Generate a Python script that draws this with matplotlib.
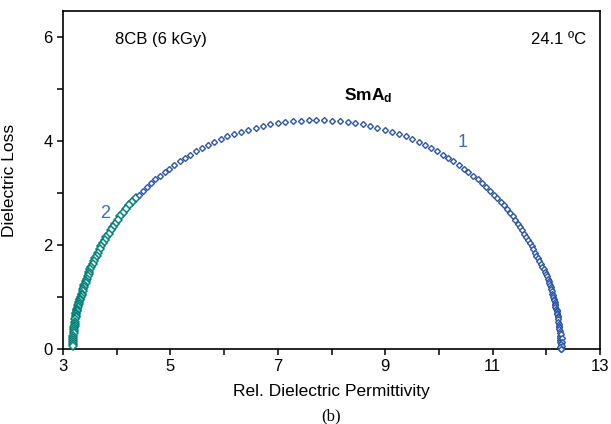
import numpy as np
import matplotlib
matplotlib.use("Agg")
import matplotlib.pyplot as plt
from matplotlib.ticker import FixedLocator, MultipleLocator

plt.rcParams["font.family"] = ["Liberation Sans", "DejaVu Sans"]
plt.rcParams["mathtext.fontset"] = "custom"
plt.rcParams["mathtext.rm"] = "Liberation Sans"
plt.rcParams["mathtext.bf"] = "Liberation Sans:bold"

# ---- Region 1 (blue): from the knee on the left, over the top, down to the right end
perm_1 = [
    4.42, 4.49, 4.56, 4.64, 4.72, 4.80, 4.89, 4.98, 5.07, 5.17,
    5.27, 5.37, 5.48, 5.59, 5.70, 5.82, 5.94, 6.06, 6.19, 6.32,
    6.45, 6.59, 6.72, 6.86, 7.00, 7.14, 7.29, 7.43, 7.58, 7.72,
    7.86, 8.01, 8.15, 8.30, 8.44, 8.58, 8.72, 8.85, 8.99, 9.12,
    9.25, 9.38, 9.50, 9.62, 9.74, 9.85, 9.96, 10.07, 10.17, 10.27,
    10.37, 10.46, 10.55, 10.64, 10.72, 10.80, 10.88, 10.95, 11.02, 11.08,
    11.15, 11.21, 11.26, 11.32, 11.37, 11.42, 11.47, 11.51, 11.55, 11.59,
    11.63, 11.66, 11.70, 11.73, 11.76, 11.79, 11.81, 11.84, 11.87, 11.90,
    11.92, 11.95, 11.97, 11.99, 12.01, 12.03, 12.04, 12.05, 12.07, 12.08,
    12.09, 12.10, 12.11, 12.12, 12.13, 12.14, 12.15, 12.16, 12.16, 12.17,
    12.17, 12.18, 12.19, 12.19, 12.20, 12.20,
    12.21, 12.21, 12.22, 12.22, 12.23, 12.23, 12.24, 12.24, 12.25, 12.25,
    12.26, 12.26, 12.26, 12.26, 12.27, 12.27, 12.27,
    12.28, 12.30, 12.29, 12.27, 12.30, 12.26, 12.28,
]
loss_1 = [
    2.97, 3.04, 3.12, 3.19, 3.26, 3.33, 3.40, 3.47, 3.54, 3.61,
    3.68, 3.74, 3.80, 3.87, 3.92, 3.98, 4.04, 4.09, 4.13, 4.18,
    4.22, 4.26, 4.29, 4.32, 4.34, 4.36, 4.38, 4.39, 4.40, 4.40,
    4.40, 4.39, 4.38, 4.36, 4.34, 4.32, 4.29, 4.26, 4.22, 4.18,
    4.13, 4.09, 4.04, 3.98, 3.92, 3.87, 3.80, 3.74, 3.68, 3.61,
    3.54, 3.47, 3.40, 3.33, 3.26, 3.19, 3.12, 3.04, 2.97, 2.90,
    2.83, 2.76, 2.69, 2.62, 2.55, 2.48, 2.41, 2.34, 2.28, 2.21,
    2.15, 2.09, 2.03, 1.97, 1.91, 1.85, 1.79, 1.74, 1.69, 1.63,
    1.58, 1.53, 1.48, 1.44, 1.39, 1.35, 1.30, 1.26, 1.22, 1.18,
    1.14, 1.10, 1.06, 1.03, 0.99, 0.96, 0.93, 0.89, 0.86, 0.83,
    0.80, 0.77, 0.75, 0.72, 0.69, 0.67,
    0.63, 0.60, 0.56, 0.52, 0.48, 0.44, 0.41, 0.37, 0.33, 0.29,
    0.25, 0.21, 0.17, 0.13, 0.09, 0.05, 0.00,
    0.28, 0.20, 0.12, 0.08, 0.04, 0.02, 0.00,
]

# ---- Region 2 (teal): low-permittivity tail
perm_2 = [
    4.36, 4.29, 4.23, 4.18, 4.12, 4.07, 4.02, 3.97, 3.93, 3.89,
    3.85, 3.81, 3.78, 3.74, 3.71, 3.68, 3.65, 3.63, 3.60, 3.58,
    3.55, 3.53, 3.51, 3.49, 3.48, 3.46, 3.44, 3.43, 3.42, 3.40,
    3.39, 3.38, 3.37, 3.36, 3.35, 3.33, 3.32, 3.31, 3.30, 3.29,
    3.28, 3.28, 3.27, 3.26, 3.26, 3.25, 3.25,
    3.24, 3.24, 3.23, 3.23, 3.22, 3.22, 3.21, 3.21, 3.20, 3.20,
    3.19, 3.19, 3.19, 3.19, 3.19, 3.19,
]
loss_2 = [
    2.90, 2.83, 2.76, 2.69, 2.62, 2.55, 2.48, 2.41, 2.34, 2.28,
    2.21, 2.15, 2.09, 2.03, 1.97, 1.91, 1.85, 1.79, 1.74, 1.69,
    1.63, 1.58, 1.53, 1.48, 1.44, 1.39, 1.35, 1.30, 1.26, 1.22,
    1.18, 1.14, 1.10, 1.06, 1.03, 0.99, 0.96, 0.93, 0.89, 0.86,
    0.83, 0.80, 0.77, 0.75, 0.72, 0.69, 0.67,
    0.63, 0.60, 0.56, 0.52, 0.48, 0.44, 0.41, 0.37, 0.33, 0.29,
    0.25, 0.21, 0.17, 0.13, 0.09, 0.05,
]

x_ticks = [3, 5, 7, 9, 11, 13]
x_minor = [4, 6, 8, 10, 12]
y_ticks = [0, 2, 4, 6]

blue = "#2a55a8"
teal = "#00827a"
label_blue = "#3a6fb8"

fig = plt.figure(figsize=(6.11, 4.24), dpi=100)
ax = fig.add_axes([0.1031, 0.178, 0.879, 0.795])

# ---- Data
ax.plot(perm_2, loss_2, linestyle="none", marker="D", markersize=3.6,
        markerfacecolor="white", markeredgecolor=teal, markeredgewidth=1.1,
        clip_on=False, zorder=3)
ax.plot(perm_1, loss_1, linestyle="none", marker="D", markersize=3.0,
        markerfacecolor="white", markeredgecolor=blue, markeredgewidth=1.0,
        clip_on=False, zorder=4)

# ---- Annotations
ax.text(0.097, 0.918, "8CB (6 kGy)", transform=ax.transAxes,
        fontsize=12, ha="left", va="center")
ax.text(0.974, 0.918, "24.1 ºC", transform=ax.transAxes,
        fontsize=12, ha="right", va="center")
ax.text(8.68, 4.88, r"$\mathbf{SmA_d}$", fontsize=12.5, ha="center", va="center")
ax.text(10.45, 3.98, "1", color=label_blue, fontsize=13, ha="center", va="center")
ax.text(3.78, 2.61, "2", color=label_blue, fontsize=13, ha="center", va="center")

# ---- Axes
ax.set_xlim(3, 13)
ax.set_ylim(0, 6.5)
ax.xaxis.set_major_locator(FixedLocator(x_ticks))
ax.xaxis.set_minor_locator(FixedLocator(x_minor))
ax.yaxis.set_major_locator(FixedLocator(y_ticks))
ax.yaxis.set_minor_locator(MultipleLocator(1))
ax.tick_params(which="both", direction="out", length=4, width=1.1,
               labelsize=12, top=False, right=False)
for spine in ax.spines.values():
    spine.set_linewidth(1.2)

ax.set_xlabel("Rel. Dielectric Permittivity", fontsize=12.5)
ax.set_ylabel("Dielectric Loss", fontsize=12.5)
ax.xaxis.set_label_coords(0.5, -0.105)
ax.yaxis.set_label_coords(-0.085, 0.5)

fig.text(0.542, 0.017, "(b)", fontsize=12, family="Liberation Serif",
         ha="center", va="center")

fig.savefig("out.png", dpi=100)
